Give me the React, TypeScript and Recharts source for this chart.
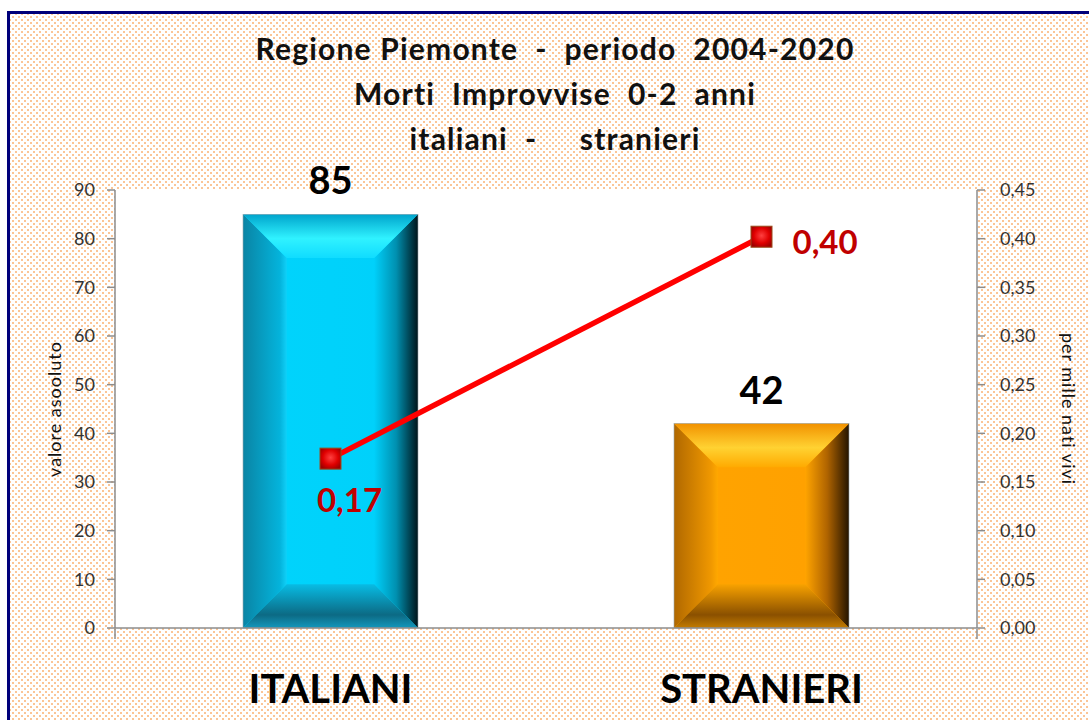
import { Bar, CartesianGrid, ComposedChart, LabelList, Line, XAxis, YAxis } from "recharts";

// values
const categories = ["ITALIANI", "STRANIERI"];
const absoluteValues = [85, 42];
const ratePerThousand = [0.174, 0.402];
const leftTicks = [0, 10, 20, 30, 40, 50, 60, 70, 80, 90];
const rightTicks = [0, 0.05, 0.1, 0.15, 0.2, 0.25, 0.3, 0.35, 0.4, 0.45];
const titleLines = [
	"Regione Piemonte  -  periodo  2004-2020",
	"Morti  Improvvise  0-2  anni",
	"italiani  -     stranieri",
];

const data = categories.map((name, i) => ({
	name,
	value: absoluteValues[i],
	rate: ratePerThousand[i],
}));

const FONT = "Lato, 'Open Sans', sans-serif";
const AXIS_GREY = "#8c8c8c";
const BAR_KEYS = ["cyan", "orange"];

const BEVELS: Record<string, Record<string, [string, string][]>> = {
	cyan: {
		face: [["0%", "#00d4fc"], ["100%", "#00d0fa"]],
		left: [["0%", "#0a84a4"], ["85%", "#04b4dc"], ["100%", "#10d0f8"]],
		right: [["0%", "#00d0fa"], ["50%", "#0090b0"], ["100%", "#00141a"]],
		top: [["0%", "#00a4cc"], ["55%", "#30f2ff"], ["100%", "#10dcff"]],
		bottom: [["0%", "#08bce4"], ["70%", "#0c6a84"], ["100%", "#1498bc"]],
	},
	orange: {
		face: [["0%", "#ffa400"], ["100%", "#ffa000"]],
		left: [["0%", "#b06800"], ["85%", "#f09800"], ["100%", "#ffa800"]],
		right: [["0%", "#ffa400"], ["50%", "#b06400"], ["100%", "#241400"]],
		top: [["0%", "#f29200"], ["55%", "#ffd232"], ["100%", "#ffaa00"]],
		bottom: [["0%", "#f8a200"], ["70%", "#8a5000"], ["100%", "#c47c00"]],
	},
};

function Gradients() {
	return (
		<defs>
			{Object.entries(BEVELS).flatMap(([key, parts]) =>
				Object.entries(parts).map(([part, stops]) => {
					const vertical = part === "top" || part === "bottom";
					return (
						<linearGradient
							key={`${key}-${part}`}
							id={`${key}-${part}`}
							x1="0"
							y1="0"
							x2={vertical ? "0" : "1"}
							y2={vertical ? "1" : "0"}
						>
							{stops.map(([o, c]) => (
								<stop key={o} offset={o} stopColor={c} />
							))}
						</linearGradient>
					);
				}),
			)}
			<radialGradient id="marker" cx="50%" cy="45%" r="60%">
				<stop offset="0%" stopColor="#ff4040" />
				<stop offset="60%" stopColor="#e00000" />
				<stop offset="100%" stopColor="#a00000" />
			</radialGradient>
		</defs>
	);
}

// bar drawn as a bevelled block like the Excel original
function BevelBar(props: any) {
	const { x, y, width, height, index } = props;
	if (!width || !height) return null;
	const key = BAR_KEYS[index % BAR_KEYS.length];
	const b = Math.min(44, width / 4, height / 3);
	const r = x + width;
	const btm = y + height;
	const pts = (p: number[][]) => p.map((q) => q.join(",")).join(" ");
	return (
		<g>
			<rect x={x} y={y} width={width} height={height} fill={`url(#${key}-face)`} />
			<polygon points={pts([[x, y], [x + b, y + b], [x + b, btm - b], [x, btm]])} fill={`url(#${key}-left)`} />
			<polygon points={pts([[r, y], [r - b, y + b], [r - b, btm - b], [r, btm]])} fill={`url(#${key}-right)`} />
			<polygon points={pts([[x, y], [r, y], [r - b, y + b], [x + b, y + b]])} fill={`url(#${key}-top)`} />
			<polygon points={pts([[x, btm], [r, btm], [r - b, btm - b], [x + b, btm - b]])} fill={`url(#${key}-bottom)`} />
			<rect x={x} y={y} width={width} height={height} fill="none" stroke="#9aa8b0" strokeWidth={0.6} />
		</g>
	);
}

function SquareDot(props: any) {
	const { cx, cy } = props;
	const s = 21;
	return (
		<rect
			x={cx - s / 2}
			y={cy - s / 2}
			width={s}
			height={s}
			fill="url(#marker)"
			stroke="#9a4a1a"
			strokeWidth={1}
		/>
	);
}

const fmtRate = (v: number) => v.toFixed(2).replace(".", ",");

function RateLabel(props: any) {
	const { x, y, value, index } = props;
	const style = { fontFamily: FONT, fontWeight: 700, fontSize: 33, fill: "#c00000" };
	if (index === 0) {
		return (
			<text x={x + 19} y={y + 40} textAnchor="middle" dominantBaseline="central" style={style}>
				{fmtRate(value)}
			</text>
		);
	}
	return (
		<text x={x + 31} y={y + 4} textAnchor="start" dominantBaseline="central" style={style}>
			{fmtRate(value)}
		</text>
	);
}

function ValueLabel(props: any) {
	const { x, y, width, value } = props;
	return (
		<text
			x={x + width / 2}
			y={y - 20}
			textAnchor="middle"
			style={{ fontFamily: FONT, fontWeight: 700, fontSize: 38, fill: "#000" }}
		>
			{value}
		</text>
	);
}

function CategoryTick(props: any) {
	const { x, y, payload } = props;
	return (
		<text
			x={x}
			y={y + 67}
			textAnchor="middle"
			style={{ fontFamily: FONT, fontWeight: 700, fontSize: 40, fill: "#000" }}
		>
			{payload.value}
		</text>
	);
}

const tickStyle = { fontFamily: FONT, fontSize: 18, fill: "#333" };
const sideLabelStyle = { fontFamily: FONT, fontSize: 18, letterSpacing: 1, fill: "#111" };

export default function App() {
	return (
		<div
			style={{
				position: "fixed",
				left: 0,
				top: 0,
				width: 1089,
				height: 720,
				overflow: "hidden",
				background: "#fff",
			}}
		>
			<div
				style={{
					position: "absolute",
					left: 7,
					top: 11,
					width: 1100,
					height: 730,
					border: "3px solid #00007a",
					backgroundColor: "#fff",
					backgroundImage:
						"radial-gradient(circle, #fbc596 0.8px, transparent 1.2px), radial-gradient(circle, #fbc596 0.8px, transparent 1.2px)",
					backgroundSize: "6px 6px",
					backgroundPosition: "0 0, 3px 3px",
				}}
			/>
			{titleLines.map((t, i) => (
				<div
					key={t}
					style={{
						position: "absolute",
						left: 0,
						width: 1110,
						top: 30 + i * 45,
						textAlign: "center",
						whiteSpace: "pre",
						fontFamily: FONT,
						fontWeight: 700,
						fontSize: 30,
						letterSpacing: 1.2,
						color: "#111",
					}}
				>
					{t}
				</div>
			))}
			<div style={{ position: "absolute", left: 0, top: 0 }}>
				<ComposedChart
					width={1089}
					height={720}
					data={data}
					margin={{ top: 190, right: 42, bottom: 90, left: 55 }}
				>
					<Gradients />
					<CartesianGrid
						xAxisId="cat"
						yAxisId="left"
						horizontal={false}
						vertical={false}
						fill="#ffffff"
						stroke="none"
					/>
					<XAxis
						xAxisId="frame"
						type="number"
						domain={[0, 2]}
						ticks={[0, 1, 2]}
						allowDataOverflow
						height={1}
						axisLine={false}
						tickSize={10}
						tickLine={{ stroke: AXIS_GREY, strokeWidth: 1.5 }}
						tickFormatter={() => ""}
					/>
					<XAxis
						xAxisId="cat"
						dataKey="name"
						height={1}
						axisLine={{ stroke: AXIS_GREY, strokeWidth: 1.5 }}
						tickLine={false}
						tick={<CategoryTick />}
					/>
					<YAxis
						yAxisId="left"
						orientation="left"
						width={60}
						domain={[0, 90]}
						ticks={leftTicks}
						interval={0}
						axisLine={{ stroke: AXIS_GREY, strokeWidth: 1.5 }}
						tickLine={{ stroke: AXIS_GREY, strokeWidth: 1.5 }}
						tickSize={8}
						tickMargin={12}
						tick={tickStyle}
						label={(p: any) => (
							<text
								x={p.viewBox.x + 6}
								y={409}
								textAnchor="middle"
								transform={`rotate(-90 ${p.viewBox.x + 6} 409)`}
								style={sideLabelStyle}
							>
								valore asooluto
							</text>
						)}
					/>
					<YAxis
						yAxisId="right"
						orientation="right"
						width={70}
						domain={[0, 0.45]}
						ticks={rightTicks}
						interval={0}
						axisLine={{ stroke: AXIS_GREY, strokeWidth: 1.5 }}
						tickLine={{ stroke: AXIS_GREY, strokeWidth: 1.5 }}
						tickSize={8}
						tickMargin={15}
						tick={tickStyle}
						tickFormatter={fmtRate}
						label={(p: any) => (
							<text
								x={p.viewBox.x + 85}
								y={409}
								textAnchor="middle"
								transform={`rotate(90 ${p.viewBox.x + 85} 409)`}
								style={sideLabelStyle}
							>
								per mille nati vivi
							</text>
						)}
					/>
					<Bar
						xAxisId="cat"
						yAxisId="left"
						dataKey="value"
						barSize={175}
						shape={<BevelBar />}
						isAnimationActive={false}
					>
						<LabelList dataKey="value" content={<ValueLabel />} />
					</Bar>
					<Line
						xAxisId="cat"
						yAxisId="right"
						dataKey="rate"
						stroke="#ff0000"
						strokeWidth={5.5}
						dot={<SquareDot />}
						activeDot={false}
						isAnimationActive={false}
					>
						<LabelList dataKey="rate" content={<RateLabel />} />
					</Line>
				</ComposedChart>
			</div>
		</div>
	);
}
